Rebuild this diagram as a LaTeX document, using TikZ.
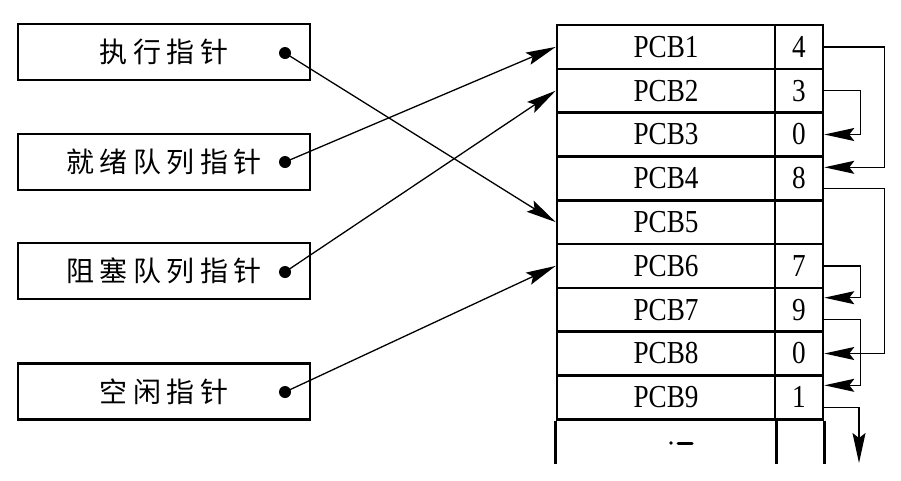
\documentclass[tikz,border=0pt]{standalone}
\usepackage{fontspec}
\setmainfont{Liberation Serif}
\newfontfamily\cjk{Noto Sans CJK SC}[LetterSpace=20]
\newfontfamily\pcbf{Liberation Serif}[FakeStretch=0.85]
\usetikzlibrary{arrows.meta}
\begin{document}
\begin{tikzpicture}[x=1pt,y=-1pt,
  box/.style={draw, line width=2.4pt, minimum width=292pt, minimum height=56pt, inner sep=0pt,
    font=\cjk\fontsize{28}{30}\selectfont},
  cell/.style={draw, line width=2.6pt, minimum height=43.8pt, inner sep=0pt,
    font=\pcbf\fontsize{32}{34}\selectfont},
  pcbcell/.style={cell, minimum width=218pt},
  valcell/.style={cell, minimum width=48pt},
  dotn/.style={circle, fill, inner sep=0pt, minimum size=12pt},
  link/.style={line width=1.3pt, -{Stealth[length=30pt,width=13pt,inset=5pt]}},
  wall/.style={line width=2.6pt}]
\useasboundingbox (0,0) rectangle (901,480);

% pointer boxes
\node[box] (b1) at (164,52) {执行指针};
\node[box] (b2) at (164,162) {就绪队列指针};
\node[box] (b3) at (164,271) {阻塞队列指针};
\node[box] (b4) at (164,391.5) {空闲指针};

\node[dotn] (d1) at (285,53) {};
\node[dotn] (d2) at (285,162) {};
\node[dotn] (d3) at (285,272) {};
\node[dotn] (d4) at (285,392) {};

% PCB table
\foreach \k/\v in {1/4,2/3,3/0,4/8,5/{},6/7,7/9,8/0,9/1} {
  \node[pcbcell] (p\k) at (666, 25+43.8*\k-21.9) {PCB\k};
  \node[valcell] (v\k) at (799, 25+43.8*\k-21.9) {\v};
}
\draw[wall] (p9.south west) -- ++(0,43);
\draw[wall] (p9.south east) -- ++(0,43);
\draw[wall] (v9.south east) -- ++(0,43);
\fill (671,443) circle (1.8);
\draw[line width=3pt, line cap=round] (678,443) -- (692,443);

% pointers into the table
\draw[link] (d1.center) -- (p5.west);
\draw[link] (d2.center) -- (p1.west);
\draw[link] (d3.center) -- (p2.west);
\draw[link] (d4.center) -- (p6.west);

% chains
\draw[link] (v1.east) -- ++(60,0) |- ([yshift=11pt]v4.east);
\draw[link] (v2.east) -- ++(36,0) |- (v3.east);
\draw[link] ([yshift=-10pt]v4.east) -- ++(60,0) |- (v8.east);
\draw[link] (v6.east) -- ++(36,0) |- ([yshift=12pt]v7.east);
\draw[link] ([yshift=-10pt]v7.east) -- ++(36,0) |- ([yshift=12pt]v9.east);
\coordinate (tail) at (859,463);
\draw[link] ([yshift=-10pt]v9.east) -| (tail);
\end{tikzpicture}
\end{document}
